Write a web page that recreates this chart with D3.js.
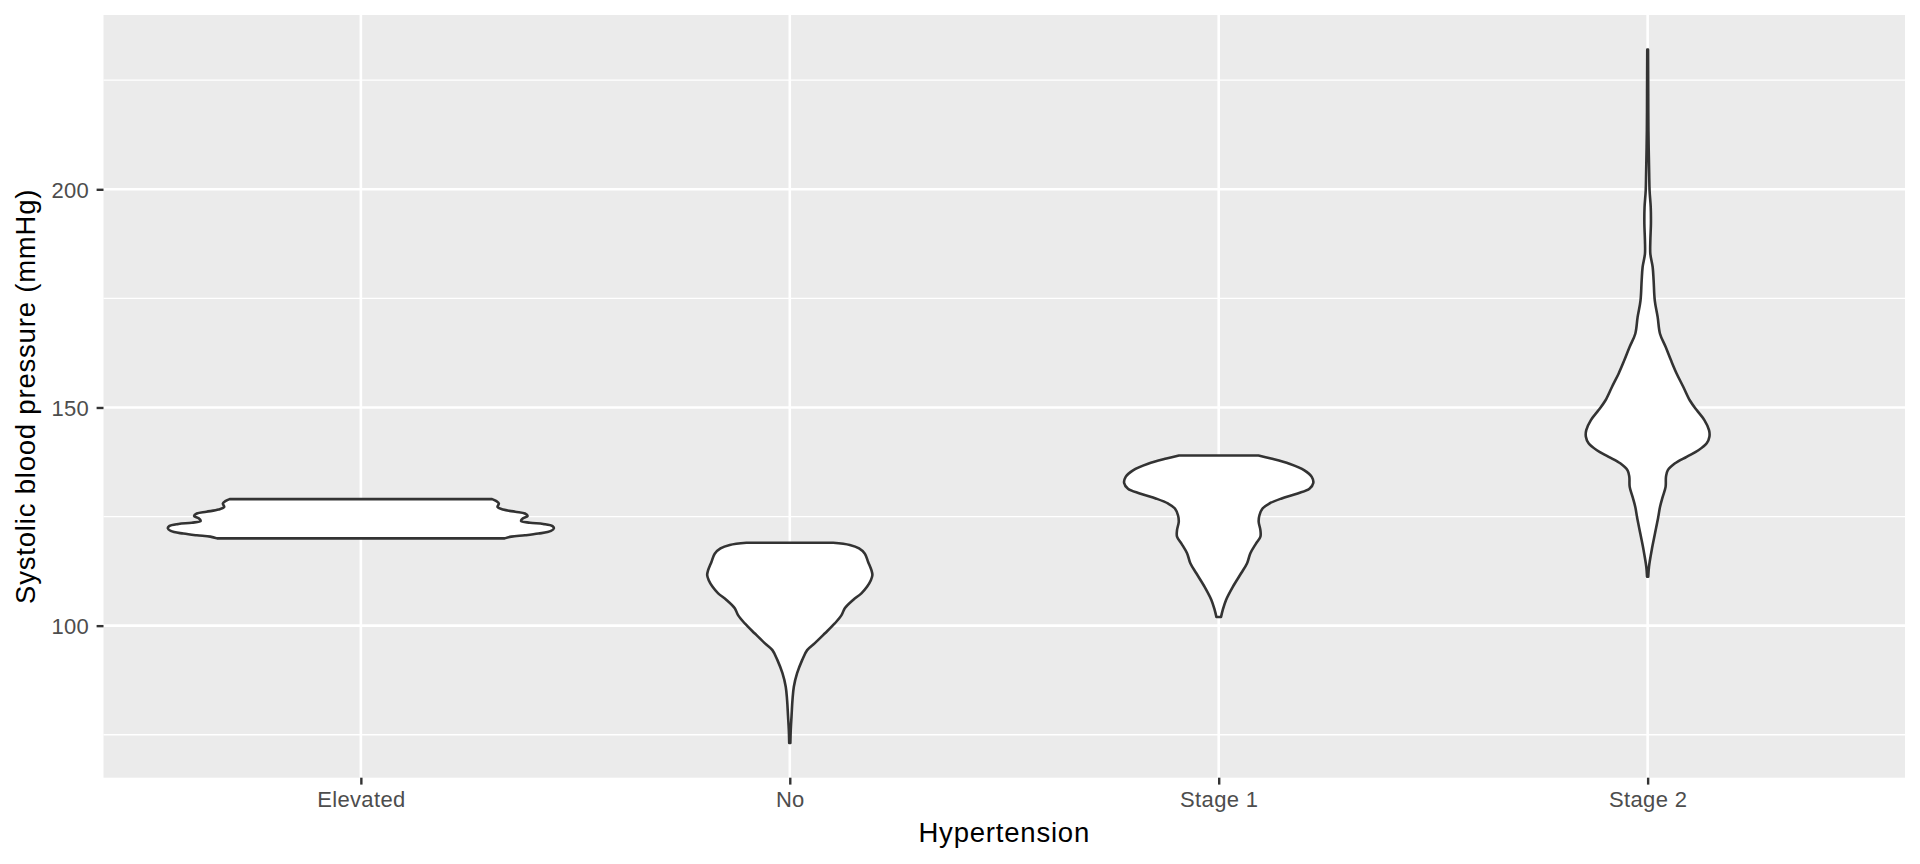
<!DOCTYPE html>
<html>
<head>
<meta charset="utf-8">
<script src="https://cdn.jsdelivr.net/npm/d3@7"></script>
<style>
    body { margin: 0; background: #fff; }
    text { font-family: "Liberation Sans", Arial, Helvetica, sans-serif; }
</style>
</head>
<body>
<div id="main"></div>
<script>
// Categories on the x axis
const CATEGORIES = ["Elevated", "No", "Stage 1", "Stage 2"];

// Violin outlines: [systolic mmHg, relative half-width (1 = widest violin)]
// listed from the bottom of each violin to its top
const ELEVATED = [
    [120.0, 0.745], [120.4, 0.78], [120.7, 0.85], [121.1, 0.92], [121.7, 0.985],
    [122.3, 1.0], [122.8, 0.993], [123.3, 0.945], [123.6, 0.876], [124.0, 0.83],
    [124.6, 0.84], [125.1, 0.864], [125.7, 0.85], [126.1, 0.80], [126.6, 0.737],
    [127.2, 0.708], [128.0, 0.715], [128.6, 0.70], [129.0, 0.68]
];
const NO = [
    [73.1, 0.003], [76.1, 0.005], [79.2, 0.009], [83.0, 0.014], [86.0, 0.021],
    [89.1, 0.038], [92.1, 0.064], [94.4, 0.09], [96.0, 0.13], [98.2, 0.181],
    [100.5, 0.233], [102.4, 0.268], [104.0, 0.285], [105.9, 0.328], [107.4, 0.371],
    [108.9, 0.40], [110.4, 0.42], [111.6, 0.428], [112.7, 0.423], [114.6, 0.406],
    [116.5, 0.389], [117.7, 0.359], [118.5, 0.311], [119.0, 0.225]
];
const STAGE_1 = [
    [102.0, 0.012], [103.6, 0.021], [105.9, 0.038], [108.9, 0.073], [112.0, 0.116],
    [114.3, 0.147], [116.6, 0.164], [118.8, 0.193], [120.4, 0.216], [121.9, 0.216],
    [123.8, 0.207], [125.3, 0.211], [126.9, 0.228], [128.0, 0.263], [129.1, 0.323],
    [130.3, 0.409], [131.4, 0.47], [132.7, 0.49], [134.1, 0.482], [135.6, 0.444],
    [137.1, 0.366], [138.3, 0.271], [139.0, 0.206]
];
const STAGE_2 = [
    [111.2, 0.003], [113.5, 0.007], [117.3, 0.021], [121.1, 0.038], [124.9, 0.055],
    [127.2, 0.064], [129.5, 0.078], [131.8, 0.093], [134.1, 0.095], [135.6, 0.104],
    [137.2, 0.142], [138.7, 0.202], [140.2, 0.263], [141.8, 0.306], [143.3, 0.32],
    [144.8, 0.318], [147.1, 0.294], [149.4, 0.254], [151.6, 0.219], [154.7, 0.185],
    [157.8, 0.15], [160.8, 0.121], [163.9, 0.093], [166.9, 0.064], [170.7, 0.052],
    [174.5, 0.037], [179.1, 0.031], [182.2, 0.026], [185.2, 0.014], [188.3, 0.014],
    [192.1, 0.017], [195.9, 0.016], [199.7, 0.01], [203.5, 0.008], [213.4, 0.004],
    [222.0, 0.003], [232.0, 0.002]
];
const VIOLINS = [ELEVATED, NO, STAGE_1, STAGE_2];

// Axis ticks
const Y_MAJOR = [100, 150, 200];
const Y_MINOR = [75, 125, 175, 225];

const X_TITLE = "Hypertension";
const Y_TITLE = "Systolic blood pressure (mmHg)";

const ctx = {
    w: 1920,
    h: 864,
    margin: { top: 15, right: 15, bottom: 86.3, left: 103.5 },
    PANEL_BG: "#EBEBEB",
    GRID: "#FFFFFF",
    INK: "#333333",
    TICK_TEXT: "#4D4D4D",
    majorWidth: 2.6,
    minorWidth: 1.3,
    tickLen: 6.9,
    tickFont: 22,
    titleFont: 27.5,
};

function createViz() {
    let svgEl = d3.select("#main").append("svg")
        .attr("width", ctx.w)
        .attr("height", ctx.h);

    let pw = ctx.w - ctx.margin.left - ctx.margin.right;
    let ph = ctx.h - ctx.margin.top - ctx.margin.bottom;

    let x = d3.scalePoint().domain(CATEGORIES).range([0, pw]).padding(0.6);

    // ggplot style 5% expansion around the data range
    let all = VIOLINS.flat().map((d) => d[0]);
    let ext = d3.extent(all);
    let pad = (ext[1] - ext[0]) * 0.05;
    let y = d3.scaleLinear().domain([ext[0] - pad, ext[1] + pad]).range([ph, 0]);

    // violin width 0.9 of a category step
    let wScale = d3.scaleLinear().domain([0, 1]).range([0, 0.45 * x.step()]);

    let g = svgEl.append("g")
        .attr("transform", `translate(${ctx.margin.left},${ctx.margin.top})`);

    g.append("rect")
        .attr("width", pw)
        .attr("height", ph)
        .attr("fill", ctx.PANEL_BG);

    g.selectAll(".minor")
        .data(Y_MINOR)
        .enter()
        .append("line")
        .attr("x1", 0)
        .attr("x2", pw)
        .attr("y1", (d) => y(d))
        .attr("y2", (d) => y(d))
        .attr("stroke", ctx.GRID)
        .attr("stroke-width", ctx.minorWidth);

    g.selectAll(".majorY")
        .data(Y_MAJOR)
        .enter()
        .append("line")
        .attr("x1", 0)
        .attr("x2", pw)
        .attr("y1", (d) => y(d))
        .attr("y2", (d) => y(d))
        .attr("stroke", ctx.GRID)
        .attr("stroke-width", ctx.majorWidth);

    g.selectAll(".majorX")
        .data(CATEGORIES)
        .enter()
        .append("line")
        .attr("x1", (d) => x(d))
        .attr("x2", (d) => x(d))
        .attr("y1", 0)
        .attr("y2", ph)
        .attr("stroke", ctx.GRID)
        .attr("stroke-width", ctx.majorWidth);

    // violins
    CATEGORIES.forEach((c, i) => {
        let cx = x(c);
        let area = d3.area()
            .y((d) => y(d[0]))
            .x0((d) => cx - wScale(d[1]))
            .x1((d) => cx + wScale(d[1]))
            .curve(d3.curveCatmullRom);
        g.append("path")
            .datum(VIOLINS[i])
            .attr("d", area)
            .attr("fill", "#FFFFFF")
            .attr("stroke", ctx.INK)
            .attr("stroke-width", 2.6)
            .attr("stroke-linejoin", "round");
    });

    // axes
    let yAxis = g.append("g")
        .call(d3.axisLeft(y).tickValues(Y_MAJOR).tickSize(ctx.tickLen).tickPadding(7.4));
    let xAxis = g.append("g")
        .attr("transform", `translate(0,${ph})`)
        .call(d3.axisBottom(x).tickSize(ctx.tickLen).tickPadding(6.8));

    [yAxis, xAxis].forEach((a) => {
        a.select(".domain").remove();
        a.selectAll(".tick line").attr("stroke", ctx.INK).attr("stroke-width", 2.4);
        a.selectAll(".tick text")
            .attr("fill", ctx.TICK_TEXT)
            .style("font-size", ctx.tickFont + "px")
            .style("letter-spacing", "0.35px")
            .style("font-family", '"Liberation Sans", Arial, sans-serif');
    });
    yAxis.selectAll(".tick text").attr("dy", "0.36em");

    svgEl.append("text")
        .attr("x", ctx.margin.left + pw / 2)
        .attr("y", 842.3)
        .attr("text-anchor", "middle")
        .style("font-size", ctx.titleFont + "px")
        .style("letter-spacing", "0.8px")
        .attr("fill", "#000")
        .text(X_TITLE);

    svgEl.append("text")
        .attr("transform", `translate(35,${ctx.margin.top + ph / 2}) rotate(-90)`)
        .attr("text-anchor", "middle")
        .style("font-size", ctx.titleFont + "px")
        .style("letter-spacing", "0.8px")
        .attr("fill", "#000")
        .text(Y_TITLE);
}

createViz();
</script>
</body>
</html>
